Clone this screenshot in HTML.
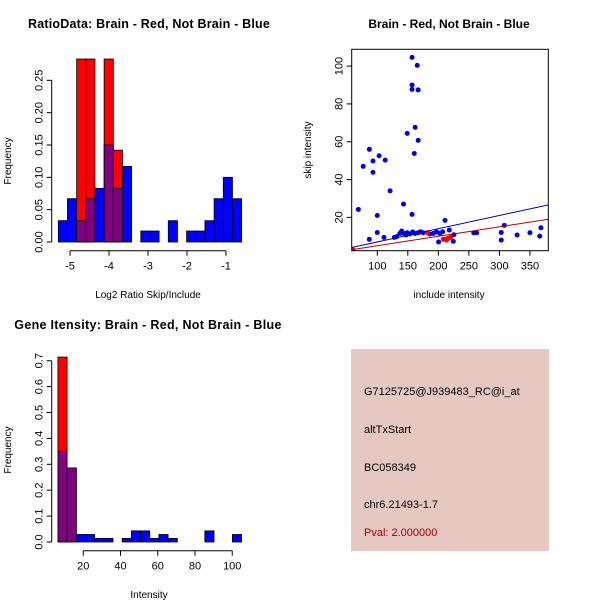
<!DOCTYPE html>
<html><head><meta charset="utf-8"><style>
body{margin:0;background:#fff;}
svg{display:block;font-family:"Liberation Sans",Arial,sans-serif;}
</style></head><body>
<svg id="c" width="600" height="600" viewBox="0 0 600 600">
<rect width="600" height="600" fill="#fff"/>
<text x="149" y="28" text-anchor="middle" font-size="12.5" letter-spacing="0.2" font-weight="bold">RatioData: Brain - Red, Not Brain - Blue</text>
<text x="449" y="28" text-anchor="middle" font-size="12" font-weight="bold">Brain - Red, Not Brain - Blue</text>
<text x="148" y="329" text-anchor="middle" font-size="12.5" letter-spacing="0.3" font-weight="bold">Gene Itensity: Brain - Red, Not Brain - Blue</text>
<text x="148" y="298" text-anchor="middle" font-size="10">Log2 Ratio Skip/Include</text>
<text transform="translate(11,161) rotate(-90)" text-anchor="middle" font-size="10">Frequency</text>
<text x="449" y="298" text-anchor="middle" font-size="10">include intensity</text>
<text transform="translate(311,150) rotate(-90)" text-anchor="middle" font-size="10">skip intensity</text>
<text x="149" y="598" text-anchor="middle" font-size="10">Intensity</text>
<text transform="translate(11,450) rotate(-90)" text-anchor="middle" font-size="10">Frequency</text>
<g id="g1"></g>
<g id="g2"></g>
<g id="g3"></g>
<g>
<rect x="351" y="349" width="198" height="202" fill="#e6c8c2"/>
<text x="364" y="395" font-size="11">G7125725@J939483_RC@i_at</text>
<text x="364" y="433" font-size="11">altTxStart</text>
<text x="364" y="471" font-size="11">BC058349</text>
<text x="364" y="508" font-size="11">chr6.21493-1.7</text>
<text x="364" y="536" font-size="11" fill="#a00000">Pval: 2.000000</text>
</g>
</svg>
<script>
// Ratio histogram data
const ratioStart = -5.3, ratioWidth = 0.235;
const ratioBlue = [0.033,0.067,0.033,0.067,0.083,0.15,0.083,0.117,0,0.017,0.017,0,0.033,0,0.017,0.017,0.033,0.067,0.1,0.067];
const ratioRed  = [0,0,0.283,0.283,0,0.283,0.142,0,0,0,0,0,0,0,0,0,0,0,0,0];
const ratioXTicks = [-5,-4,-3,-2,-1];
const ratioYTicks = ["0.00","0.05","0.10","0.15","0.20","0.25"];
// Intensity histogram data
const intStart = 6.4, intWidth = 4.93;
const intBlue = [0.35,0.286,0.029,0.029,0.014,0.014,0,0.014,0.043,0.043,0.014,0.029,0.014,0,0,0,0.043,0,0,0.029];
const intRed  = [0.714,0.286,0,0,0,0,0,0,0,0,0,0,0,0,0,0,0,0,0,0];
const intXTicks = [20,40,60,80,100];
const intYTicks = ["0.0","0.1","0.2","0.3","0.4","0.5","0.6","0.7"];
// Scatter data
const blueX = [69,77,87,87,93,93,100,100,103,113,111,121,128,143,149,157,157,157,165.5,167,162,167,160.6,157,211,308,368,131.7,137,140,143.7,147,149,153.5,158,161.7,167,171,175,186,191.7,197,200.4,202.6,207,218,224.5,225.5,258,262.7,303,303,329,350,366];
const blueY = [24.2,47,56,8.4,49.8,43.8,21,12,52.6,50.3,9.4,34,9.4,27,64.4,104.6,90,87.7,100.4,87.4,67.6,60.7,53.8,21.6,18.4,15.8,14.5,9.8,11.5,12.8,11.5,10.7,11.9,11.2,12.3,11.5,11.9,12.4,11.9,11.2,11.5,12.3,7,11.5,12.4,13.3,7.3,10.8,11.9,11.9,12,8,10.7,11.9,10.1];
const redX = [182,208,211,215.7,220,213.5,59.6];
const redY = [11.9,8.4,8.5,8.9,9.4,8,3];
const scatterXTicks = [100,150,200,250,300,350];
const scatterYTicks = [20,40,60,80,100];
const blueSlope = 0.07, redSlope = 0.05;

const NS="http://www.w3.org/2000/svg";
function mk(parent,tag,attrs){const e=document.createElementNS(NS,tag);for(const k in attrs)e.setAttribute(k,attrs[k]);parent.appendChild(e);return e;}

function hist(g,start,width,blue,red,xs,ys,xTicks,yTicks,axisY,yAxisX,name){
  for(let i=0;i<blue.length;i++){
    const x0=xs(start+i*width), x1=xs(start+(i+1)*width);
    const b=blue[i], r=red[i];
    if(r>0){
      const e=mk(g,'rect',{x:x0,y:ys(r),width:x1-x0,height:ys(0)-ys(r),fill:'#ff0000',stroke:'#000','stroke-width':0.8});
      
      
      if(b>0){
        const p=mk(g,'rect',{x:x0,y:ys(b),width:x1-x0,height:ys(0)-ys(b),fill:'#800080',stroke:'#000','stroke-width':0.8});
        
        
      }
    } else if(b>0){
      const e=mk(g,'rect',{x:x0,y:ys(b),width:x1-x0,height:ys(0)-ys(b),fill:'#0000ff',stroke:'#000','stroke-width':0.8});
      
      
    }
  }
  const yv=yTicks.map(Number);
  mk(g,'line',{x1:yAxisX,x2:yAxisX,y1:ys(yv[0]),y2:ys(yv[yv.length-1]),stroke:'#000'});
  yTicks.forEach(t=>{const y=ys(Number(t));mk(g,'line',{x1:yAxisX-5,x2:yAxisX,y1:y,y2:y,stroke:'#000'});
    const tx=mk(g,'text',{transform:`translate(${yAxisX-9},${y}) rotate(-90)`,'text-anchor':'middle','font-size':11});tx.textContent=t;
    
    });
  mk(g,'line',{x1:xs(xTicks[0]),x2:xs(xTicks[xTicks.length-1]),y1:axisY,y2:axisY,stroke:'#000'});
  xTicks.forEach(t=>{const x=xs(t);mk(g,'line',{x1:x,x2:x,y1:axisY,y2:axisY+5,stroke:'#000'});
    const tx=mk(g,'text',{x:x,y:axisY+19,'text-anchor':'middle','font-size':11});tx.textContent=String(t);
    
    });
}
hist(document.getElementById('g1'),ratioStart,ratioWidth,ratioBlue,ratioRed,
  v=>70+(v+5)*39, v=>242-v*646.7,ratioXTicks,ratioYTicks,250.7,51.7,'ratio');
hist(document.getElementById('g3'),intStart,intWidth,intBlue,intRed,
  v=>46+v*1.8625, v=>542-v*259,intXTicks,intYTicks,550.7,51.7,'intensity');

(function(){
  const g=document.getElementById('g2');
  const xs=v=>316.2+v*0.6107, ys=v=>255.2-v*1.891;
  const L=351.7,R=548.3,T=49.3,B=250.7;
  const cp=mk(g,'clipPath',{id:'clip'});mk(cp,'rect',{x:L,y:T,width:R-L,height:B-T});
  const inner=mk(g,'g',{'clip-path':'url(#clip)'});
  blueX.forEach((x,i)=>{const c=mk(inner,'circle',{cx:xs(x),cy:ys(blueY[i]),r:2.5,fill:'#0000dd'});
    
    });
  redX.forEach((x,i)=>{const c=mk(inner,'circle',{cx:xs(x),cy:ys(redY[i]),r:2.5,fill:'#ff0000'});
    
    });
  const x0=0,x1=500;
  const bl=mk(inner,'line',{x1:xs(x0),y1:ys(x0*blueSlope),x2:xs(x1),y2:ys(x1*blueSlope),stroke:'#0000aa'});
  
  
  const rl=mk(inner,'line',{x1:xs(x0),y1:ys(x0*redSlope),x2:xs(x1),y2:ys(x1*redSlope),stroke:'#b00000'});
  
  
  const box=mk(g,'rect',{x:L,y:T,width:R-L,height:B-T,fill:'none',stroke:'#000'});
  
  
  scatterXTicks.forEach(t=>{const x=xs(t);mk(g,'line',{x1:x,x2:x,y1:B,y2:B+5,stroke:'#000'});
    const tx=mk(g,'text',{x:x,y:B+19,'text-anchor':'middle','font-size':11});tx.textContent=t;
    
    });
  scatterYTicks.forEach(t=>{const y=ys(t);mk(g,'line',{x1:L-5,x2:L,y1:y,y2:y,stroke:'#000'});
    const tx=mk(g,'text',{transform:`translate(${L-9},${y}) rotate(-90)`,'text-anchor':'middle','font-size':11});tx.textContent=t;
    
    });
})();
</script>
</body></html>
